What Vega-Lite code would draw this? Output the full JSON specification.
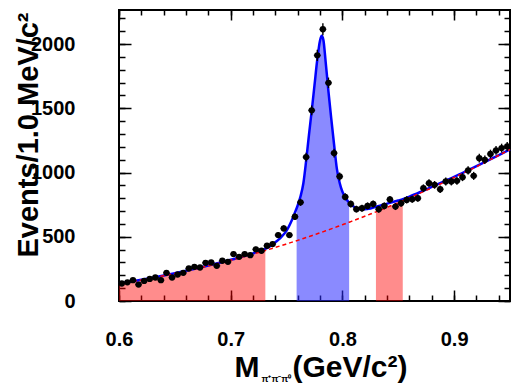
{
  "$schema": "https://vega.github.io/schema/vega-lite/v6.json",
  "autosize": {"type": "none"},
  "padding": {"left": 119, "top": 10, "right": 2, "bottom": 84},
  "width": 391,
  "height": 291,
  "background": "white",
  "datasets": {
    "curve": [
      {"x": 0.600, "t": 136, "b": 135.0}, {"x": 0.610, "t": 150, "b": 149.1}, {"x": 0.620, "t": 165, "b": 164.2},
      {"x": 0.630, "t": 181, "b": 180.2}, {"x": 0.640, "t": 198, "b": 197.1}, {"x": 0.650, "t": 216, "b": 214.9},
      {"x": 0.660, "t": 235, "b": 233.7}, {"x": 0.670, "t": 255, "b": 253.3}, {"x": 0.680, "t": 276, "b": 274.0},
      {"x": 0.690, "t": 298, "b": 295.5}, {"x": 0.700, "t": 321, "b": 317.9}, {"x": 0.710, "t": 345, "b": 341.3},
      {"x": 0.720, "t": 371, "b": 365.6}, {"x": 0.725, "t": 386, "b": 378.1}, {"x": 0.730, "t": 402, "b": 390.9},
      {"x": 0.731, "t": 406, "b": 393.4}, {"x": 0.735, "t": 425, "b": 403.8}, {"x": 0.740, "t": 458, "b": 417.0},
      {"x": 0.745, "t": 495, "b": 430.4}, {"x": 0.750, "t": 548, "b": 444.1}, {"x": 0.755, "t": 635, "b": 458.0},
      {"x": 0.759, "t": 722, "b": 469.3}, {"x": 0.760, "t": 745, "b": 472.1}, {"x": 0.7625, "t": 815, "b": 479.2},
      {"x": 0.765, "t": 915, "b": 486.5}, {"x": 0.7675, "t": 1090, "b": 493.7}, {"x": 0.770, "t": 1290, "b": 501.0},
      {"x": 0.7725, "t": 1480, "b": 508.4}, {"x": 0.775, "t": 1680, "b": 515.8}, {"x": 0.7775, "t": 1880, "b": 523.3},
      {"x": 0.780, "t": 2030, "b": 530.9}, {"x": 0.7815, "t": 2065, "b": 535.4}, {"x": 0.783, "t": 2030, "b": 540.1},
      {"x": 0.785, "t": 1860, "b": 546.2}, {"x": 0.7875, "t": 1630, "b": 553.9}, {"x": 0.790, "t": 1420, "b": 561.7},
      {"x": 0.7925, "t": 1220, "b": 569.4}, {"x": 0.795, "t": 1030, "b": 577.4}, {"x": 0.7975, "t": 920, "b": 585.4},
      {"x": 0.800, "t": 850, "b": 593.4}, {"x": 0.8025, "t": 808, "b": 601.4}, {"x": 0.805, "t": 775, "b": 609.5},
      {"x": 0.806, "t": 766, "b": 612.8}, {"x": 0.8075, "t": 752, "b": 617.8}, {"x": 0.810, "t": 735, "b": 626.0},
      {"x": 0.815, "t": 716, "b": 642.6}, {"x": 0.820, "t": 714, "b": 659.5}, {"x": 0.825, "t": 720, "b": 676.7},
      {"x": 0.830, "t": 733, "b": 694.0}, {"x": 0.835, "t": 746, "b": 711.6}, {"x": 0.840, "t": 758, "b": 729.4},
      {"x": 0.845, "t": 770, "b": 747.5}, {"x": 0.850, "t": 782, "b": 765.8}, {"x": 0.854, "t": 792, "b": 780.5},
      {"x": 0.860, "t": 812, "b": 803.0}, {"x": 0.870, "t": 849, "b": 841.2}, {"x": 0.880, "t": 888, "b": 880.3},
      {"x": 0.890, "t": 927, "b": 920.3}, {"x": 0.900, "t": 966, "b": 961.3}, {"x": 0.910, "t": 1007, "b": 1003.1},
      {"x": 0.920, "t": 1049, "b": 1045.9}, {"x": 0.930, "t": 1092, "b": 1089.7}, {"x": 0.940, "t": 1136, "b": 1134.3},
      {"x": 0.950, "t": 1181, "b": 1179.9}
    ],
    "points": [
      {"x": 0.6025, "y": 136, "err": 11.7}, {"x": 0.6075, "y": 145, "err": 12.0}, {"x": 0.6125, "y": 162, "err": 12.7},
      {"x": 0.6175, "y": 128, "err": 11.3}, {"x": 0.6225, "y": 156, "err": 12.5}, {"x": 0.6275, "y": 172, "err": 13.1},
      {"x": 0.6325, "y": 183, "err": 13.5}, {"x": 0.6375, "y": 162, "err": 12.7}, {"x": 0.6425, "y": 219, "err": 14.8},
      {"x": 0.6475, "y": 183, "err": 13.5}, {"x": 0.6525, "y": 206, "err": 14.4}, {"x": 0.6575, "y": 219, "err": 14.8},
      {"x": 0.6625, "y": 253, "err": 15.9}, {"x": 0.6675, "y": 266, "err": 16.3}, {"x": 0.6725, "y": 261, "err": 16.2},
      {"x": 0.6775, "y": 297, "err": 17.2}, {"x": 0.6825, "y": 300, "err": 17.3}, {"x": 0.6875, "y": 274, "err": 16.6},
      {"x": 0.6925, "y": 313, "err": 17.7}, {"x": 0.6975, "y": 305, "err": 17.5}, {"x": 0.7025, "y": 365, "err": 19.1},
      {"x": 0.7075, "y": 344, "err": 18.5}, {"x": 0.7125, "y": 365, "err": 19.1}, {"x": 0.7175, "y": 357, "err": 18.9},
      {"x": 0.7225, "y": 402, "err": 20.0}, {"x": 0.7275, "y": 391, "err": 19.8}, {"x": 0.7325, "y": 430, "err": 20.7},
      {"x": 0.7375, "y": 443, "err": 21.0}, {"x": 0.7425, "y": 513, "err": 22.6}, {"x": 0.7475, "y": 565, "err": 23.8},
      {"x": 0.7525, "y": 513, "err": 22.6}, {"x": 0.7575, "y": 656, "err": 25.6}, {"x": 0.7625, "y": 768, "err": 27.7},
      {"x": 0.7675, "y": 1120, "err": 33.5}, {"x": 0.7725, "y": 1484, "err": 38.5}, {"x": 0.7775, "y": 1912, "err": 43.7},
      {"x": 0.7825, "y": 2115, "err": 46.0}, {"x": 0.7875, "y": 1698, "err": 41.2}, {"x": 0.7925, "y": 1151, "err": 33.9},
      {"x": 0.7975, "y": 969, "err": 31.1}, {"x": 0.8025, "y": 810, "err": 28.5}, {"x": 0.8075, "y": 755, "err": 27.5},
      {"x": 0.8125, "y": 715, "err": 26.7}, {"x": 0.8175, "y": 722, "err": 26.9}, {"x": 0.8225, "y": 740, "err": 27.2},
      {"x": 0.8275, "y": 755, "err": 27.5}, {"x": 0.8325, "y": 714, "err": 26.7}, {"x": 0.8375, "y": 740, "err": 27.2},
      {"x": 0.8425, "y": 790, "err": 28.1}, {"x": 0.8475, "y": 735, "err": 27.1}, {"x": 0.8525, "y": 761, "err": 27.6},
      {"x": 0.8575, "y": 787, "err": 28.1}, {"x": 0.8625, "y": 792, "err": 28.1}, {"x": 0.8675, "y": 800, "err": 28.3},
      {"x": 0.8725, "y": 878, "err": 29.6}, {"x": 0.8775, "y": 917, "err": 30.3}, {"x": 0.8825, "y": 904, "err": 30.1},
      {"x": 0.8875, "y": 870, "err": 29.5}, {"x": 0.8925, "y": 930, "err": 30.5}, {"x": 0.8975, "y": 930, "err": 30.5},
      {"x": 0.9025, "y": 935, "err": 30.6}, {"x": 0.9075, "y": 964, "err": 31.0}, {"x": 0.9125, "y": 1016, "err": 31.9},
      {"x": 0.9175, "y": 974, "err": 31.2}, {"x": 0.9225, "y": 1112, "err": 33.3}, {"x": 0.9275, "y": 1099, "err": 33.2},
      {"x": 0.9325, "y": 1144, "err": 33.8}, {"x": 0.9375, "y": 1172, "err": 34.2}, {"x": 0.9425, "y": 1190, "err": 34.5},
      {"x": 0.9475, "y": 1203, "err": 34.7}
    ]
  },
  "resolve": {"axis": {"x": "independent", "y": "independent"}},
  "layer": [
    {
      "data": {"name": "curve"},
      "transform": [{"filter": {"field": "x", "range": [0.759, 0.806]}}],
      "mark": {"type": "area", "color": "#2a2aff", "opacity": 0.55},
      "encoding": {
        "x": {"field": "x", "type": "quantitative", "scale": {"domain": [0.6, 0.95], "nice": false, "zero": false},
          "axis": {"orient": "bottom", "values": [0.6, 0.7, 0.8, 0.9], "format": ".1f", "ticks": false, "labelPadding": 28, "labelBaseline": "top",
            "title": "M", "titleFontSize": 30, "titleX": 115, "titleY": 75, "titleAlign": "left", "titleBaseline": "alphabetic"}},
        "y": {"field": "t", "type": "quantitative", "scale": {"domain": [0, 2265], "nice": false},
          "axis": {"orient": "left", "values": [0, 500, 1000, 1500, 2000], "format": "d", "ticks": false, "labelPadding": 44, "labelBaseline": "middle",
            "title": "Events/1.0 MeV/c²", "titleFontSize": 29, "titleX": -82, "titleY": 2, "titleAngle": -90, "titleAlign": "right", "titleBaseline": "alphabetic"}},
        "y2": {"datum": 0}
      }
    },
    {
      "data": {"name": "curve"},
      "transform": [{"filter": {"field": "x", "range": [0.6, 0.731]}}],
      "mark": {"type": "area", "color": "#ff0000", "opacity": 0.45},
      "encoding": {
        "x": {"field": "x", "type": "quantitative", "scale": {"domain": [0.6, 0.95], "nice": false, "zero": false},
          "axis": {"orient": "bottom", "values": [0.6, 0.7, 0.8, 0.9], "tickSize": -11, "labels": false,
            "title": "π⁺π⁻π⁰", "titleFontSize": 9, "titleX": 142, "titleY": 80, "titleAlign": "left", "titleBaseline": "alphabetic"}},
        "y": {"field": "b", "type": "quantitative", "scale": {"domain": [0, 2265], "nice": false},
          "axis": {"orient": "left", "values": [0, 500, 1000, 1500, 2000], "tickSize": -12, "labels": false, "title": null}},
        "y2": {"datum": 0}
      }
    },
    {
      "data": {"name": "curve"},
      "transform": [{"filter": {"field": "x", "range": [0.83, 0.854]}}],
      "mark": {"type": "area", "color": "#ff0000", "opacity": 0.45},
      "encoding": {
        "x": {"field": "x", "type": "quantitative", "scale": {"domain": [0.6, 0.95], "nice": false, "zero": false},
          "axis": {"orient": "bottom", "values": [0.6, 0.62, 0.64, 0.66, 0.68, 0.7, 0.72, 0.74, 0.76, 0.78, 0.8, 0.82, 0.84, 0.86, 0.88, 0.9, 0.92, 0.94], "tickSize": -6, "labels": false,
            "title": "(GeV/c²)", "titleFontSize": 30, "titleX": 173, "titleY": 75, "titleAlign": "left", "titleBaseline": "alphabetic"}},
        "y": {"field": "b", "type": "quantitative", "scale": {"domain": [0, 2265], "nice": false},
          "axis": {"orient": "left", "values": [0, 100, 200, 300, 400, 500, 600, 700, 800, 900, 1000, 1100, 1200, 1300, 1400, 1500, 1600, 1700, 1800, 1900, 2000, 2100, 2200], "tickSize": -6, "labels": false, "title": null}},
        "y2": {"datum": 0}
      }
    },
    {
      "data": {"name": "curve"},
      "mark": {"type": "line", "color": "#0000ff", "strokeWidth": 2.5, "interpolate": "monotone"},
      "encoding": {
        "x": {"field": "x", "type": "quantitative", "scale": {"domain": [0.6, 0.95], "nice": false, "zero": false},
          "axis": {"orient": "top", "values": [0.6, 0.7, 0.8, 0.9], "tickSize": -10, "labels": false, "title": null}},
        "y": {"field": "t", "type": "quantitative", "scale": {"domain": [0, 2265], "nice": false},
          "axis": {"orient": "right", "values": [0, 500, 1000, 1500, 2000], "tickSize": -12, "labels": false, "title": null}}
      }
    },
    {
      "data": {"name": "curve"},
      "mark": {"type": "line", "color": "#ff0000", "strokeWidth": 1.5, "strokeDash": [4, 3], "interpolate": "monotone"},
      "encoding": {
        "x": {"field": "x", "type": "quantitative", "scale": {"domain": [0.6, 0.95], "nice": false, "zero": false},
          "axis": {"orient": "top", "values": [0.6, 0.62, 0.64, 0.66, 0.68, 0.7, 0.72, 0.74, 0.76, 0.78, 0.8, 0.82, 0.84, 0.86, 0.88, 0.9, 0.92, 0.94], "tickSize": -5, "labels": false, "title": null}},
        "y": {"field": "b", "type": "quantitative", "scale": {"domain": [0, 2265], "nice": false},
          "axis": {"orient": "right", "values": [0, 100, 200, 300, 400, 500, 600, 700, 800, 900, 1000, 1100, 1200, 1300, 1400, 1500, 1600, 1700, 1800, 1900, 2000, 2100, 2200], "tickSize": -6, "labels": false, "title": null}}
      }
    },
    {
      "data": {"name": "points"},
      "mark": {"type": "errorbar", "color": "black", "rule": {"strokeWidth": 1.4}},
      "encoding": {
        "x": {"field": "x", "type": "quantitative", "scale": {"domain": [0.6, 0.95], "nice": false, "zero": false}, "axis": null},
        "y": {"field": "y", "type": "quantitative", "scale": {"domain": [0, 2265], "nice": false}, "axis": null},
        "yError": {"field": "err"}
      }
    },
    {
      "data": {"name": "points"},
      "mark": {"type": "tick", "orient": "horizontal", "color": "black", "size": 7, "thickness": 1.4},
      "encoding": {
        "x": {"field": "x", "type": "quantitative", "scale": {"domain": [0.6, 0.95], "nice": false, "zero": false}, "axis": null},
        "y": {"field": "y", "type": "quantitative", "scale": {"domain": [0, 2265], "nice": false}, "axis": null}
      }
    },
    {
      "data": {"name": "points"},
      "mark": {"type": "point", "shape": "circle", "filled": true, "color": "black", "opacity": 1, "size": 40},
      "encoding": {
        "x": {"field": "x", "type": "quantitative", "scale": {"domain": [0.6, 0.95], "nice": false, "zero": false}, "axis": null},
        "y": {"field": "y", "type": "quantitative", "scale": {"domain": [0, 2265], "nice": false}, "axis": null}
      }
    }
  ],
  "config": {
    "view": {"stroke": "black", "strokeWidth": 2},
    "axis": {
      "grid": false, "domain": false,
      "labelFont": "Liberation Sans", "titleFont": "Liberation Sans",
      "labelFontWeight": "bold", "titleFontWeight": "bold",
      "labelColor": "black", "titleColor": "black", "tickColor": "black", "tickWidth": 1.5,
      "labelFontSize": 20, "labelFlush": false, "labelOverlap": false, "labelBound": false
    }
  }
}
